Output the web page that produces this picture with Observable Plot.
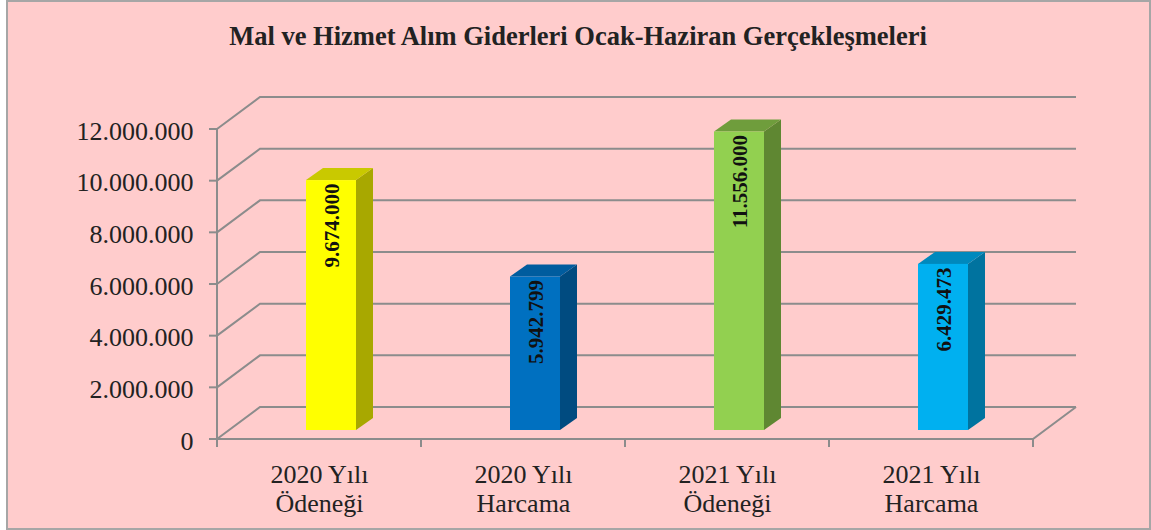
<!DOCTYPE html>
<html><head><meta charset="utf-8">
<script src="https://cdn.jsdelivr.net/npm/d3@7"></script>
<script src="https://cdn.jsdelivr.net/npm/@observablehq/plot@0.6"></script>
<style>
body{margin:0;background:#fff;}
#wrap{position:relative;width:1151px;height:530px;overflow:hidden;}
#box{position:absolute;left:6px;top:0;background:#FFCCCC;border:2px solid #a6a6a6;box-sizing:border-box;width:1145px;height:530px;}
#title{position:absolute;left:7px;width:1142px;top:21px;line-height:30px;text-align:center;font:bold 26.5px "Liberation Serif","Times New Roman",serif;color:#222;}
#chart{position:absolute;left:0;top:0;}
</style></head>
<body><div id="wrap"><div id="box"></div><div id="title">Mal ve Hizmet Alım Giderleri Ocak-Haziran Gerçekleşmeleri</div><div id="chart"></div></div>
<script>
const categories = ["2020 Yılı\nÖdeneği", "2020 Yılı\nHarcama", "2021 Yılı\nÖdeneği", "2021 Yılı\nHarcama"];
const values = [9674000, 5942799, 11556000, 6429473];
const valueLabels = ["9.674.000", "5.942.799", "11.556.000", "6.429.473"];
const frontColors = ["#FFFF00", "#0070C0", "#92D050", "#00B0F0"];
const sideColors = ["#A8A800", "#004B80", "#5F8732", "#00739F"];
const topColors = ["#C9C900", "#005C9E", "#6F9D3C", "#0089BD"];
const yTicks = [0, 2000000, 4000000, 6000000, 8000000, 10000000, 12000000];

const W = 1151, H = 530, mL = 217, mR = 118, mT = 129, mB = 91;
const FONT = "'Liberation Serif','Times New Roman',serif";
const bw = (W - mL - mR) / categories.length;
const barW = 50;
const inset = (bw - barW) / 2;
const WALL = [43, -32];   // wall depth offset
const BAR0 = [12, -9];    // bar front-face depth offset
const BARD = [17, -12];   // bar depth
const gridColor = "#8c8c8c";

const data = categories.map((c, i) => ({cat: c, value: values[i], label: valueLabels[i], front: frontColors[i], side: sideColors[i], top: topColors[i]}));
const fmt = d3.formatLocale({thousands: ".", grouping: [3], decimal: ",", currency: ["", ""]}).format(",d");

function frame3d(index, scales) {
  const x = scales.x, y = scales.y;
  const b = x.bandwidth();
  const x0 = x(categories[0]), x1 = x(categories[categories.length - 1]) + b;
  const g = d3.create("svg:g").attr("fill", "none").attr("stroke", gridColor).attr("stroke-width", 2);
  for (const t of yTicks) {
    const yy = y(t);
    g.append("path").attr("d", `M${x0},${yy}L${x0 + WALL[0]},${yy + WALL[1]}H${x1 + WALL[0]}`);
    g.append("path").attr("d", `M${x0 - 8},${yy}H${x0}`);
  }
  const y0 = y(0), yM = y(yTicks[yTicks.length - 1]);
  g.append("path").attr("d", `M${x0},${y0}H${x1}L${x1 + WALL[0]},${y0 + WALL[1]}`);
  g.append("path").attr("d", `M${x0},${y0}V${yM}`);
  for (let i = 0; i <= categories.length; i++) {
    const xx = x0 + i * b;
    g.append("path").attr("d", `M${xx},${y0}V${y0 + 8}`);
  }
  return g.node();
}

function bars3d(index, scales) {
  const x = scales.x, y = scales.y;
  const g = d3.create("svg:g");
  for (const d of data) {
    const xl = x(d.cat) + inset + BAR0[0], xr = xl + barW;
    const yt = y(d.value) + BAR0[1], yb = y(0) + BAR0[1];
    g.append("path").attr("fill", d.side)
      .attr("d", `M${xr},${yt}L${xr + BARD[0]},${yt + BARD[1]}V${yb + BARD[1]}L${xr},${yb}Z`);
    g.append("path").attr("fill", d.top)
      .attr("d", `M${xl},${yt}H${xr}L${xr + BARD[0]},${yt + BARD[1]}H${xl + BARD[0]}Z`);
  }
  return g.node();
}

const plot = Plot.plot({
  width: W, height: H,
  marginLeft: mL, marginRight: mR, marginTop: mT, marginBottom: mB,
  style: {background: "transparent", fontFamily: FONT, fontSize: "26px", color: "#222", overflow: "visible"},
  x: {domain: categories, padding: 0, axis: null},
  y: {domain: [0, 12000000], axis: null},
  color: {type: "identity"},
  marks: [
    frame3d,
    bars3d,
    Plot.barY(data, {x: "cat", y: "value", fill: "front", insetLeft: inset, insetRight: inset, dx: BAR0[0], dy: BAR0[1]}),
    Plot.text(data, {x: "cat", y: "value", text: "label", rotate: -90, textAnchor: "end", dx: BAR0[0] + 1, dy: BAR0[1] + 3, fontFamily: FONT, fontWeight: "bold", fontSize: 21, fill: "#111"}),
    Plot.axisY({ticks: yTicks, tickFormat: fmt, tickSize: 0, tickPadding: 24, dy: 2, label: null, fontFamily: FONT, fontSize: 26}),
    Plot.axisX({tickSize: 0, tickPadding: 24, lineHeight: 1.08, label: null, fontFamily: FONT, fontSize: 26})
  ]
});
document.getElementById("chart").append(plot);
</script>
</body></html>
